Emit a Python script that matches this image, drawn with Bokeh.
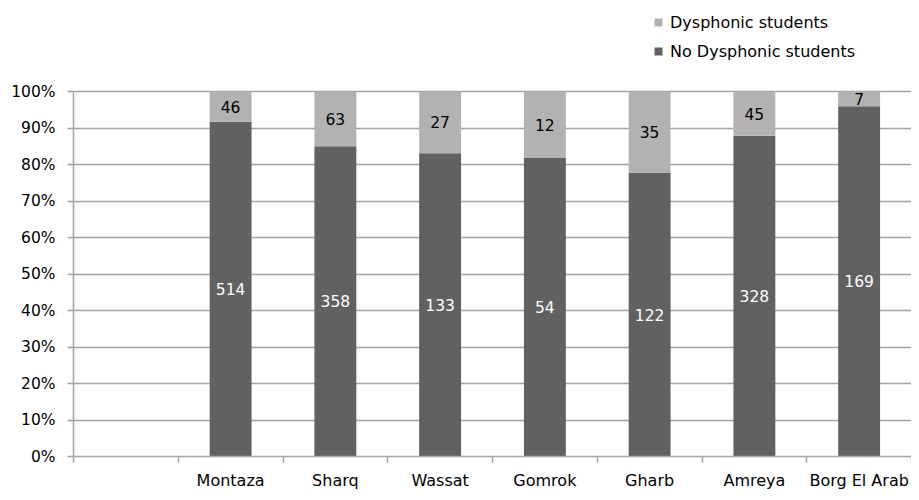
from bokeh.plotting import figure
from bokeh.models import (Range1d, FixedTicker, ColumnDataSource, Legend, LegendItem,
                          NumeralTickFormatter, LabelSet)
from bokeh.embed import file_html
from bokeh.resources import INLINE
from bokeh.core.properties import value

# ---- data ----
categories = ["Montaza", "Sharq", "Wassat", "Gomrok", "Gharb", "Amreya", "Borg El Arab"]
no_dysphonic = [514, 358, 133, 54, 122, 328, 169]
dysphonic = [46, 63, 27, 12, 35, 45, 7]
y_ticks = [0, 0.1, 0.2, 0.3, 0.4, 0.5, 0.6, 0.7, 0.8, 0.9, 1.0]

FONT = "DejaVu Sans"
DARK = "#616161"
LIGHT = "#b2b2b2"
GRID = "#a3a3a3"

# one empty slot before the first category (slot -1..0)
xs = [i + 0.5 for i in range(len(categories))]
totals = [a + b for a, b in zip(no_dysphonic, dysphonic)]
no_frac = [a / t for a, t in zip(no_dysphonic, totals)]

src = ColumnDataSource(dict(
    x=xs, cat=categories,
    no_top=no_frac, one=[1.0] * len(xs),
    no_mid=[f / 2 for f in no_frac],
    dy_mid=[f + (1 - f) / 2 for f in no_frac],
    no_txt=[str(v) for v in no_dysphonic],
    dy_txt=[str(v) for v in dysphonic],
))

# the frame reaches to the top of the figure; the space above 100% holds the legend
p = figure(width=911, height=492, output_backend="svg", toolbar_location=None,
           x_range=Range1d(-1, len(categories)), y_range=Range1d(0, 1.25),
           min_border_left=73, min_border_right=0, min_border_top=0, min_border_bottom=27)
p.outline_line_color = None
p.background_fill_color = "white"
p.border_fill_color = "white"

r_no = p.vbar(x="x", width=0.4, bottom=0, top="no_top", source=src,
              fill_color=DARK, line_color=None)
r_dy = p.vbar(x="x", width=0.4, bottom="no_top", top="one", source=src,
              fill_color=LIGHT, line_color=None)

p.add_layout(LabelSet(x="x", y="no_mid", text="no_txt", source=src,
                      text_align="center", text_baseline="middle",
                      text_color="white", text_font=value(FONT), text_font_size="15.5px"))
p.add_layout(LabelSet(x="x", y="dy_mid", text="dy_txt", source=src,
                      text_align="center", text_baseline="middle",
                      text_color="black", text_font=value(FONT), text_font_size="15.5px"))

# grid
p.xgrid.visible = False
p.ygrid.ticker = FixedTicker(ticks=y_ticks)
p.ygrid.grid_line_color = GRID
p.ygrid.grid_line_width = 1.5

# y axis
yax = p.yaxis[0]
yax.ticker = FixedTicker(ticks=y_ticks)
yax.bounds = (0, 1)
yax.formatter = NumeralTickFormatter(format="0%")
yax.axis_line_color = GRID
yax.axis_line_width = 1.5
yax.major_tick_line_color = GRID
yax.major_tick_line_width = 1.5
yax.major_tick_out = 6
yax.major_tick_in = 0
yax.minor_tick_line_color = None
yax.major_label_standoff = 12
yax.major_label_text_font = FONT
yax.major_label_text_font_size = "15.5px"
yax.major_label_text_color = "black"

# x axis: labels at slot centres, tick marks at slot boundaries
xax = p.xaxis[0]
xax.ticker = FixedTicker(ticks=xs, minor_ticks=list(range(-1, len(categories) + 1)))
xax.major_label_overrides = {x: c for x, c in zip(xs, categories)}
xax.axis_line_color = GRID
xax.axis_line_width = 1.5
xax.major_tick_line_color = None
xax.major_tick_out = 0
xax.major_tick_in = 0
xax.minor_tick_line_color = GRID
xax.minor_tick_line_width = 1.5
xax.minor_tick_out = 6
xax.minor_tick_in = 0
xax.major_label_standoff = 8
xax.major_label_text_font = FONT
xax.major_label_text_font_size = "16px"
xax.major_label_text_color = "black"

legend = Legend(items=[LegendItem(label="Dysphonic students", renderers=[r_dy]),
                       LegendItem(label="No Dysphonic students", renderers=[r_no])],
                location=(580, 395), orientation="vertical",
                glyph_width=10, glyph_height=10, label_height=20, spacing=9,
                label_standoff=7, padding=0, margin=0,
                border_line_color=None, background_fill_alpha=0,
                label_text_font=FONT, label_text_font_size="16px", label_text_color="black")
p.add_layout(legend, "center")

open("out.html", "w").write(file_html(p, INLINE))
